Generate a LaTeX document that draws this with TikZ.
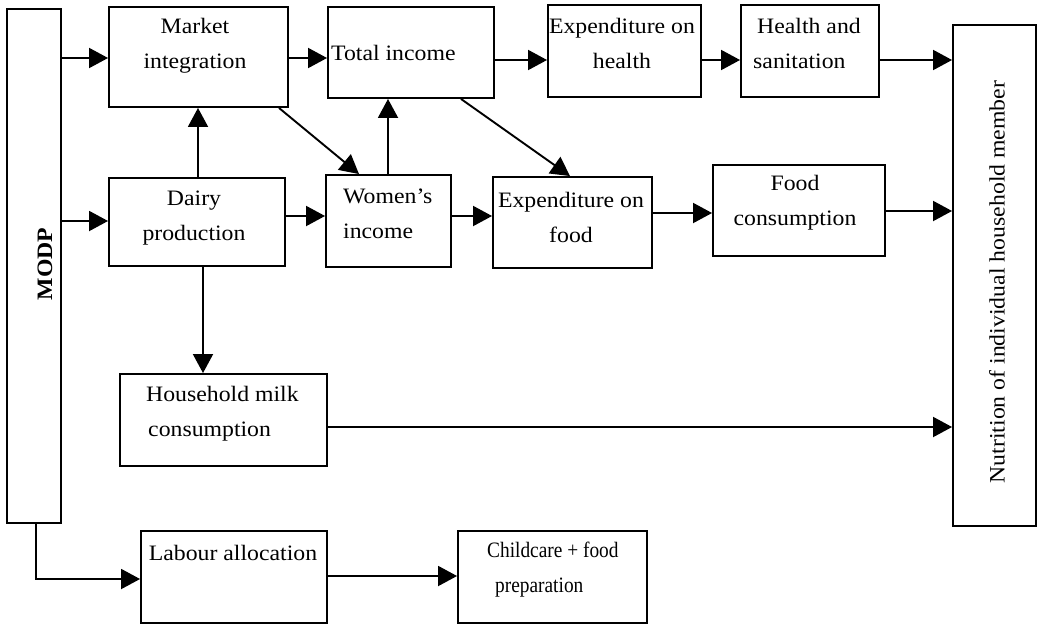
\documentclass[tikz,border=0pt]{standalone}
\usepackage{fontspec}
\setmainfont{Liberation Serif}[FakeStretch=1.08]
\newfontfamily\narrowserif{Liberation Serif}[FakeStretch=0.88]
\usetikzlibrary{arrows.meta}
\begin{document}
\begin{tikzpicture}[x=1pt,y=-1pt,
  box/.style={draw, line width=1.9pt, inner sep=0pt, anchor=center},
  txt/.style={inner sep=0pt, font=\fontsize{22}{35}\selectfont},
  arr/.style={-{Triangle[length=19pt,width=20pt]}, line width=1.9pt}]
\useasboundingbox (0,0) rectangle (1038,624);
% boxes
\node[box, minimum width=54pt, minimum height=514pt] (modp) at (34,266) {};
\node[box, minimum width=179pt, minimum height=100pt] (mi) at (198.5,57) {};
\node[box, minimum width=166pt, minimum height=91pt] (ti) at (411,52.5) {};
\node[box, minimum width=153pt, minimum height=92pt] (eh) at (624.5,51) {};
\node[box, minimum width=138pt, minimum height=92pt] (hs) at (810,51) {};
\node[box, minimum width=83pt, minimum height=501pt] (nu) at (994.5,275.5) {};
\node[box, minimum width=176pt, minimum height=88pt] (dp) at (197,222) {};
\node[box, minimum width=125pt, minimum height=92pt] (wi) at (388.5,221) {};
\node[box, minimum width=159pt, minimum height=91pt] (ef) at (572.5,222.5) {};
\node[box, minimum width=172pt, minimum height=91pt] (fc) at (799,210.5) {};
\node[box, minimum width=207pt, minimum height=92pt] (hm) at (223.5,420) {};
\node[box, minimum width=186pt, minimum height=92pt] (la) at (234,577) {};
\node[box, minimum width=189pt, minimum height=92pt] (cc) at (552.5,577) {};
% texts
\node[txt, rotate=90, font=\fontsize{22}{35}\selectfont\bfseries] (modp-t) at (45,264) {MODP};
\node[txt, align=center] (mi-t) at (195,46) {Market\\integration};
\node[txt, anchor=west] (ti-t) at (331,53) {Total income};
\node[txt, align=center] (eh-t) at (622,43) {Expenditure on\\health};
\node[txt, align=left, anchor=west] (hs-t) at (753,43) {\hspace*{4pt}Health and\\sanitation};
\node[txt, rotate=90] (nu-t) at (997,282) {Nutrition of individual household member};
\node[txt, align=center] (dp-t) at (194,218) {Dairy\\production};
\node[txt, align=left, anchor=west] (wi-t) at (343,214) {Women’s\\income};
\node[txt, align=center] (ef-t) at (571,217) {Expenditure on\\food};
\node[txt, align=center] (fc-t) at (795,203) {Food\\consumption};
\node[txt, align=left, anchor=west] (hm-t) at (146,414) {Household milk\\\hspace*{2pt}consumption};
\node[txt] (la-t) at (233,553) {Labour allocation};
\node[txt, align=left, anchor=west, font=\fontsize{22}{35}\selectfont\narrowserif] (cc-t) at (487,570) {Childcare + food\\\hspace*{8pt}preparation};
% connectors
\draw[arr] (modp.east |- 0,58) -- (mi.west |- 0,58);
\draw[arr] (modp.east |- 0,221) -- (dp.west |- 0,221);
\draw[arr] (mi.east |- 0,58) -- (ti.west |- 0,58);
\draw[arr] (ti.east |- 0,60) -- (eh.west |- 0,60);
\draw[arr] (eh.east |- 0,60) -- (hs.west |- 0,60);
\draw[arr] (hs.east |- 0,60) -- (nu.west |- 0,60);
\draw[arr] (dp.north -| 198,0) -- (mi.south -| 198,0);
\draw[arr] (wi.north -| 388,0) -- (ti.south -| 388,0);
\draw[arr] (mi.south -| 279,0) -- (wi.north -| 359,0);
\draw[arr] (ti.south -| 461,0) -- (ef.north -| 570,0);
\draw[arr] (dp.east |- 0,216) -- (wi.west |- 0,216);
\draw[arr] (wi.east |- 0,216) -- (ef.west |- 0,216);
\draw[arr] (ef.east |- 0,213) -- (fc.west |- 0,213);
\draw[arr] (fc.east |- 0,211) -- (nu.west |- 0,211);
\draw[arr] (dp.south -| 203,0) -- (hm.north -| 203,0);
\draw[arr] (hm.east |- 0,427) -- (nu.west |- 0,427);
\draw[arr] (modp.south -| 36,0) |- (la.west |- 0,579);
\draw[arr] (la.east |- 0,576) -- (cc.west |- 0,576);
\end{tikzpicture}
\end{document}
